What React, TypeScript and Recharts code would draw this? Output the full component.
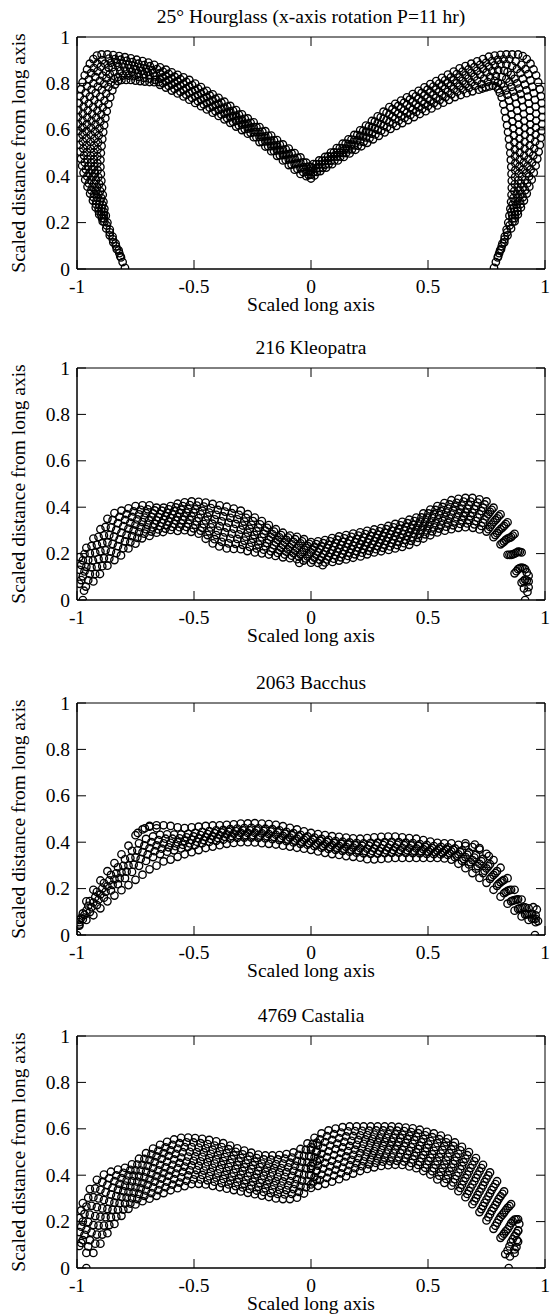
import React from 'react';
import { ScatterChart, Scatter, XAxis, YAxis, ReferenceArea } from 'recharts';

const xTicks = [-1, -0.5, 0, 0.5, 1];
const yTicks = [0, 0.2, 0.4, 0.6, 0.8, 1];

const titles = [
  '25° Hourglass (x-axis rotation P=11 hr)',
  '216 Kleopatra',
  '2063 Bacchus',
  '4769 Castalia',
];
const xLabel = 'Scaled long axis';
const yLabel = 'Scaled distance from long axis';

// --- 25° Hourglass: strands of points, flat x,y pairs (tail -> centre) ---
const hgOuterLeft = [
  -0.795,0.005, -0.805,0.03, -0.815,0.055, -0.83,0.085, -0.845,0.115, -0.86,0.145, -0.875,0.175, -0.89,0.205,
  -0.905,0.235, -0.92,0.265, -0.932,0.295, -0.944,0.325, -0.955,0.355, -0.965,0.385, -0.972,0.415, -0.978,0.445,
  -0.983,0.475, -0.987,0.505, -0.99,0.535, -0.992,0.565, -0.994,0.595, -0.995,0.625, -0.995,0.655, -0.994,0.685,
  -0.992,0.715, -0.988,0.745, -0.983,0.775, -0.976,0.805, -0.967,0.835, -0.957,0.86, -0.945,0.885, -0.93,0.905,
  -0.915,0.92, -0.895,0.925, -0.87,0.925, -0.845,0.922, -0.82,0.918, -0.795,0.913, -0.77,0.908, -0.745,0.902,
  -0.72,0.896, -0.695,0.89, -0.67,0.88, -0.645,0.869, -0.62,0.859, -0.595,0.848, -0.57,0.837, -0.545,0.826,
  -0.52,0.815, -0.495,0.799, -0.47,0.784, -0.445,0.768, -0.42,0.753, -0.395,0.738, -0.37,0.721, -0.345,0.703,
  -0.32,0.685, -0.295,0.667, -0.27,0.649, -0.245,0.632, -0.22,0.612, -0.195,0.594, -0.17,0.575, -0.145,0.556,
  -0.12,0.537, -0.095,0.519, -0.07,0.50, -0.045,0.481, -0.02,0.458, 0,0.44,
];
const hgMidALeft = [
  -0.883,0.203, -0.896,0.233, -0.908,0.263, -0.917,0.293, -0.926,0.323, -0.934,0.353, -0.942,0.383, -0.947,0.413,
  -0.952,0.443, -0.955,0.473, -0.957,0.503, -0.958,0.533, -0.959,0.563, -0.959,0.593, -0.958,0.623, -0.956,0.653,
  -0.954,0.683, -0.95,0.713, -0.945,0.743, -0.938,0.773, -0.93,0.80, -0.922,0.828, -0.912,0.852, -0.898,0.872,
  -0.88,0.885, -0.855,0.889, -0.83,0.888, -0.805,0.885, -0.78,0.88, -0.755,0.875, -0.73,0.868, -0.705,0.862,
  -0.68,0.857, -0.645,0.844, -0.62,0.833, -0.595,0.822, -0.57,0.81, -0.545,0.799, -0.52,0.787, -0.495,0.771,
  -0.47,0.757, -0.445,0.741, -0.42,0.727, -0.395,0.712, -0.37,0.696, -0.345,0.679, -0.32,0.661, -0.295,0.644,
  -0.27,0.627, -0.245,0.611, -0.22,0.59, -0.195,0.572, -0.17,0.553, -0.145,0.533, -0.12,0.514, -0.095,0.495,
  -0.07,0.476, -0.045,0.457, -0.02,0.439, 0,0.423,
];
const hgMidBLeft = [
  -0.886,0.232, -0.895,0.262, -0.902,0.292, -0.908,0.322, -0.914,0.352, -0.919,0.382, -0.923,0.412, -0.926,0.442,
  -0.928,0.472, -0.928,0.502, -0.927,0.532, -0.925,0.562, -0.923,0.592, -0.921,0.622, -0.918,0.652, -0.913,0.682,
  -0.908,0.712, -0.901,0.742, -0.894,0.772, -0.884,0.798, -0.874,0.822, -0.86,0.84, -0.84,0.85, -0.815,0.853,
  -0.79,0.852, -0.765,0.85, -0.74,0.845, -0.715,0.84, -0.69,0.835, -0.667,0.83, -0.645,0.819, -0.62,0.808,
  -0.595,0.795, -0.57,0.784, -0.545,0.771, -0.52,0.758, -0.495,0.744, -0.47,0.729, -0.445,0.715, -0.42,0.70,
  -0.395,0.686, -0.37,0.67, -0.345,0.654, -0.32,0.638, -0.295,0.622, -0.27,0.605, -0.245,0.589, -0.22,0.569,
  -0.195,0.55, -0.17,0.53, -0.145,0.511, -0.12,0.491, -0.095,0.472, -0.07,0.452, -0.045,0.434, -0.02,0.419, 0,0.407,
];
const hgInnerLeft = [
  -0.812,0.05, -0.822,0.08, -0.835,0.11, -0.848,0.14, -0.86,0.17, -0.87,0.20, -0.877,0.23, -0.883,0.26,
  -0.887,0.29, -0.89,0.32, -0.893,0.35, -0.896,0.38, -0.898,0.41, -0.90,0.44, -0.90,0.47, -0.898,0.50,
  -0.895,0.53, -0.892,0.56, -0.888,0.59, -0.884,0.62, -0.879,0.65, -0.873,0.68, -0.866,0.71, -0.858,0.74,
  -0.849,0.77, -0.838,0.795, -0.825,0.81, -0.81,0.815, -0.79,0.815, -0.77,0.815, -0.75,0.812, -0.73,0.81,
  -0.71,0.808, -0.69,0.806, -0.67,0.805, -0.645,0.794, -0.62,0.782, -0.595,0.769, -0.57,0.757, -0.545,0.744,
  -0.52,0.73, -0.495,0.716, -0.47,0.702, -0.445,0.688, -0.42,0.674, -0.395,0.66, -0.37,0.645, -0.345,0.63,
  -0.32,0.614, -0.295,0.599, -0.27,0.583, -0.245,0.568, -0.22,0.547, -0.195,0.528, -0.17,0.508, -0.145,0.488,
  -0.12,0.468, -0.095,0.448, -0.07,0.428, -0.045,0.41, -0.02,0.40, 0,0.39,
];
const hgFillALeft = [
  -0.893,0.219, -0.907,0.249, -0.919,0.279, -0.929,0.309, -0.939,0.339, -0.949,0.369, -0.956,0.399, -0.962,0.429,
  -0.967,0.459, -0.97,0.489, -0.973,0.519, -0.975,0.549, -0.976,0.579, -0.976,0.609, -0.976,0.639, -0.975,0.669,
  -0.972,0.699, -0.969,0.729, -0.963,0.759, -0.957,0.788, -0.949,0.817, -0.94,0.844, -0.928,0.866, -0.913,0.885,
  -0.893,0.90, -0.863,0.907, -0.838,0.905, -0.813,0.902, -0.788,0.897, -0.763,0.892, -0.738,0.885, -0.713,0.879,
  -0.688,0.874, -0.658,0.862, -0.633,0.851, -0.608,0.841, -0.583,0.829, -0.558,0.818, -0.533,0.807, -0.508,0.793,
  -0.483,0.778, -0.458,0.763, -0.433,0.748, -0.408,0.733, -0.383,0.717, -0.358,0.70, -0.333,0.682, -0.308,0.665,
  -0.283,0.647, -0.258,0.63, -0.233,0.611, -0.208,0.592, -0.183,0.574, -0.158,0.554, -0.133,0.535, -0.108,0.516,
  -0.083,0.498, -0.058,0.479, -0.033,0.46, -0.01,0.441,
];
const hgFillBLeft = [
  -0.819,0.068, -0.833,0.098, -0.847,0.128, -0.86,0.158, -0.873,0.188, -0.885,0.218, -0.896,0.248, -0.905,0.278,
  -0.913,0.308, -0.92,0.338, -0.927,0.368, -0.933,0.398, -0.937,0.428, -0.94,0.458, -0.942,0.488, -0.942,0.518,
  -0.942,0.548, -0.941,0.578, -0.94,0.608, -0.938,0.638, -0.935,0.668, -0.931,0.698, -0.926,0.728, -0.92,0.758,
  -0.911,0.786, -0.902,0.811, -0.891,0.834, -0.876,0.851, -0.865,0.868, -0.848,0.87, -0.823,0.871, -0.798,0.869,
  -0.773,0.865, -0.748,0.86, -0.723,0.854, -0.698,0.849, -0.674,0.844, -0.633,0.826, -0.608,0.814, -0.583,0.803,
  -0.558,0.791, -0.533,0.779, -0.508,0.766, -0.483,0.75, -0.458,0.736, -0.433,0.721, -0.408,0.707, -0.383,0.691,
  -0.358,0.675, -0.333,0.659, -0.308,0.642, -0.283,0.625, -0.258,0.608, -0.233,0.59, -0.208,0.57, -0.183,0.551,
  -0.158,0.532, -0.133,0.512, -0.108,0.493, -0.083,0.474, -0.058,0.455, -0.033,0.438, -0.01,0.423,
];
const hgFillCLeft = [
  -0.885,0.246, -0.891,0.276, -0.896,0.306, -0.901,0.336, -0.905,0.366, -0.909,0.396, -0.912,0.426, -0.913,0.456,
  -0.913,0.486, -0.912,0.516, -0.91,0.546, -0.907,0.576, -0.904,0.606, -0.90,0.636, -0.896,0.666, -0.89,0.696,
  -0.883,0.726, -0.875,0.756, -0.866,0.784, -0.855,0.804, -0.842,0.819, -0.825,0.828, -0.803,0.834, -0.78,0.834,
  -0.758,0.831, -0.735,0.828, -0.713,0.824, -0.69,0.82, -0.667,0.815, -0.65,0.806, -0.633,0.801, -0.608,0.789,
  -0.583,0.776, -0.558,0.764, -0.533,0.751, -0.508,0.737, -0.483,0.723, -0.458,0.709, -0.433,0.695, -0.408,0.68,
  -0.383,0.666, -0.358,0.65, -0.333,0.634, -0.308,0.619, -0.283,0.603, -0.258,0.587, -0.233,0.568, -0.208,0.549,
  -0.183,0.529, -0.158,0.509, -0.133,0.49, -0.108,0.47, -0.083,0.45, -0.058,0.431, -0.033,0.417, -0.01,0.405,
];
const hgOuterRight = [
  0.782,0.005, 0.79,0.03, 0.80,0.055, 0.812,0.085, 0.826,0.115, 0.84,0.145, 0.855,0.175, 0.87,0.205,
  0.884,0.235, 0.897,0.265, 0.91,0.295, 0.922,0.325, 0.933,0.355, 0.943,0.385, 0.952,0.415, 0.96,0.445,
  0.967,0.475, 0.973,0.505, 0.978,0.535, 0.982,0.565, 0.985,0.595, 0.987,0.625, 0.988,0.655, 0.988,0.685,
  0.986,0.715, 0.983,0.745, 0.978,0.775, 0.971,0.805, 0.962,0.835, 0.951,0.86, 0.938,0.885, 0.922,0.905,
  0.905,0.918, 0.885,0.925, 0.86,0.925, 0.835,0.925, 0.81,0.923, 0.785,0.92, 0.76,0.915, 0.735,0.905,
  0.71,0.895, 0.685,0.885, 0.66,0.875, 0.635,0.865, 0.61,0.851, 0.585,0.838, 0.56,0.824, 0.535,0.81,
  0.51,0.797, 0.485,0.783, 0.46,0.768, 0.435,0.754, 0.41,0.74, 0.385,0.726, 0.36,0.712, 0.335,0.698,
  0.31,0.678, 0.285,0.658, 0.26,0.638, 0.235,0.618, 0.21,0.598, 0.185,0.578, 0.16,0.559, 0.135,0.54,
  0.11,0.521, 0.085,0.502, 0.06,0.483, 0.035,0.468, 0.01,0.452,
];
const hgMidARight = [
  0.861,0.203, 0.872,0.233, 0.882,0.263, 0.892,0.293, 0.90,0.323, 0.908,0.353, 0.915,0.383, 0.92,0.413,
  0.925,0.443, 0.929,0.473, 0.933,0.503, 0.935,0.533, 0.937,0.563, 0.937,0.593, 0.937,0.623, 0.936,0.653,
  0.935,0.683, 0.931,0.713, 0.927,0.743, 0.921,0.77, 0.914,0.795, 0.905,0.82, 0.895,0.845, 0.88,0.862,
  0.86,0.875, 0.835,0.882, 0.81,0.882, 0.785,0.878, 0.76,0.872, 0.735,0.863, 0.71,0.854, 0.685,0.845,
  0.66,0.835, 0.635,0.826, 0.61,0.814, 0.585,0.801, 0.56,0.788, 0.535,0.774, 0.51,0.761, 0.485,0.748,
  0.46,0.734, 0.435,0.72, 0.41,0.707, 0.385,0.693, 0.36,0.679, 0.335,0.666, 0.31,0.647, 0.285,0.629,
  0.26,0.611, 0.235,0.592, 0.21,0.574, 0.185,0.556, 0.16,0.538, 0.135,0.52, 0.11,0.502, 0.085,0.484,
  0.06,0.467, 0.035,0.451, 0.01,0.435,
];
const hgMidBRight = [
  0.86,0.232, 0.867,0.262, 0.873,0.292, 0.879,0.322, 0.883,0.352, 0.886,0.382, 0.889,0.412, 0.891,0.442,
  0.892,0.472, 0.892,0.502, 0.892,0.532, 0.891,0.562, 0.89,0.592, 0.888,0.622, 0.885,0.652, 0.881,0.682,
  0.877,0.712, 0.871,0.742, 0.864,0.765, 0.857,0.785, 0.848,0.805, 0.835,0.82, 0.815,0.828, 0.79,0.832,
  0.765,0.828, 0.74,0.821, 0.71,0.812, 0.685,0.804, 0.66,0.796, 0.635,0.787, 0.61,0.776, 0.585,0.764,
  0.56,0.751, 0.535,0.738, 0.51,0.726, 0.485,0.712, 0.46,0.699, 0.435,0.686, 0.41,0.673, 0.385,0.66,
  0.36,0.647, 0.335,0.633, 0.31,0.617, 0.285,0.60, 0.26,0.583, 0.235,0.567, 0.21,0.55, 0.185,0.533,
  0.16,0.516, 0.135,0.50, 0.11,0.484, 0.085,0.467, 0.06,0.45, 0.035,0.435, 0.01,0.417,
];
const hgInnerRight = [
  0.798,0.05, 0.808,0.08, 0.818,0.11, 0.828,0.14, 0.836,0.17, 0.843,0.20, 0.848,0.23, 0.852,0.26,
  0.855,0.29, 0.857,0.32, 0.858,0.35, 0.858,0.38, 0.857,0.41, 0.856,0.44, 0.854,0.47, 0.852,0.50,
  0.849,0.53, 0.846,0.56, 0.842,0.59, 0.838,0.62, 0.833,0.65, 0.828,0.68, 0.822,0.71, 0.815,0.74,
  0.807,0.76, 0.80,0.775, 0.79,0.787, 0.777,0.79, 0.762,0.787, 0.747,0.783, 0.732,0.778, 0.717,0.773,
  0.69,0.766, 0.665,0.758, 0.64,0.75, 0.615,0.741, 0.59,0.729, 0.565,0.717, 0.54,0.705, 0.515,0.692,
  0.49,0.68, 0.465,0.668, 0.44,0.655, 0.415,0.642, 0.39,0.629, 0.365,0.617, 0.34,0.604, 0.315,0.589,
  0.29,0.574, 0.265,0.559, 0.24,0.544, 0.215,0.529, 0.19,0.514, 0.165,0.498, 0.14,0.483, 0.115,0.468,
  0.09,0.452, 0.065,0.437, 0.04,0.422, 0.015,0.403,
];
const hgFillARight = [
  0.871,0.219, 0.883,0.249, 0.895,0.279, 0.905,0.309, 0.915,0.339, 0.924,0.369, 0.932,0.399, 0.939,0.429,
  0.945,0.459, 0.95,0.489, 0.954,0.519, 0.958,0.549, 0.96,0.579, 0.961,0.609, 0.962,0.639, 0.962,0.669,
  0.96,0.699, 0.957,0.729, 0.952,0.758, 0.946,0.785, 0.938,0.813, 0.929,0.84, 0.916,0.861, 0.899,0.88,
  0.875,0.895, 0.848,0.904, 0.823,0.904, 0.798,0.901, 0.773,0.896, 0.748,0.889, 0.723,0.88, 0.698,0.87,
  0.673,0.86, 0.648,0.851, 0.623,0.84, 0.598,0.826, 0.573,0.813, 0.548,0.799, 0.523,0.786, 0.498,0.773,
  0.473,0.759, 0.448,0.744, 0.423,0.731, 0.398,0.717, 0.373,0.703, 0.348,0.689, 0.323,0.673, 0.298,0.654,
  0.273,0.635, 0.248,0.615, 0.223,0.596, 0.198,0.577, 0.173,0.558, 0.148,0.54, 0.123,0.521, 0.098,0.503,
  0.073,0.485, 0.048,0.467, 0.023,0.452,
];
const hgFillBRight = [
  0.804,0.068, 0.815,0.098, 0.827,0.128, 0.838,0.158, 0.849,0.188, 0.861,0.218, 0.87,0.248, 0.878,0.278,
  0.886,0.308, 0.892,0.338, 0.897,0.368, 0.902,0.398, 0.906,0.428, 0.909,0.458, 0.911,0.488, 0.913,0.518,
  0.913,0.548, 0.914,0.578, 0.913,0.608, 0.911,0.638, 0.909,0.668, 0.906,0.698, 0.901,0.728, 0.896,0.754,
  0.889,0.778, 0.881,0.80, 0.87,0.82, 0.855,0.837, 0.84,0.849, 0.825,0.855, 0.80,0.857, 0.775,0.853,
  0.75,0.847, 0.723,0.838, 0.698,0.829, 0.673,0.821, 0.648,0.811, 0.623,0.801, 0.598,0.789, 0.573,0.776,
  0.548,0.763, 0.523,0.75, 0.498,0.737, 0.473,0.724, 0.448,0.71, 0.423,0.697, 0.398,0.684, 0.373,0.67,
  0.348,0.656, 0.323,0.642, 0.298,0.624, 0.273,0.606, 0.248,0.589, 0.223,0.571, 0.198,0.554, 0.173,0.536,
  0.148,0.519, 0.123,0.502, 0.098,0.485, 0.073,0.467, 0.048,0.451, 0.023,0.434,
];
const hgFillCRight = [
  0.856,0.246, 0.861,0.276, 0.865,0.306, 0.869,0.336, 0.871,0.366, 0.872,0.396, 0.873,0.426, 0.873,0.456,
  0.872,0.486, 0.871,0.516, 0.869,0.546, 0.867,0.576, 0.864,0.606, 0.861,0.636, 0.857,0.666, 0.852,0.696,
  0.846,0.726, 0.839,0.751, 0.832,0.77, 0.824,0.786, 0.813,0.798, 0.799,0.804, 0.784,0.811, 0.756,0.806,
  0.729,0.797, 0.70,0.789, 0.675,0.781, 0.65,0.773, 0.625,0.764, 0.60,0.753, 0.575,0.741, 0.55,0.728,
  0.525,0.715, 0.50,0.703, 0.475,0.69, 0.45,0.677, 0.425,0.664, 0.40,0.651, 0.375,0.639, 0.35,0.626,
  0.325,0.611, 0.30,0.596, 0.275,0.58, 0.25,0.564, 0.225,0.548, 0.20,0.532, 0.175,0.516, 0.15,0.50,
  0.125,0.484, 0.10,0.468, 0.075,0.452, 0.05,0.436, 0.025,0.419,
];

// --- 216 Kleopatra ---
const kleoRow1 = [
  -0.99,0.07, -0.962,0.058, -0.93,0.08, -0.902,0.112, -0.87,0.148, -0.84,0.172, -0.812,0.192, -0.78,0.222,
  -0.75,0.243, -0.722,0.266, -0.69,0.276, -0.66,0.29, -0.632,0.293, -0.60,0.302, -0.57,0.298, -0.54,0.301,
  -0.512,0.294, -0.48,0.286, -0.45,0.264, -0.42,0.244, -0.392,0.231, -0.36,0.222, -0.33,0.22, -0.30,0.219,
  -0.272,0.211, -0.24,0.205, -0.21,0.201, -0.18,0.196, -0.152,0.19, -0.12,0.184, -0.09,0.18, -0.06,0.176,
  -0.032,0.17, 0,0.161, 0.03,0.16, 0.06,0.162, 0.092,0.164, 0.12,0.17, 0.15,0.175, 0.18,0.182,
  0.212,0.188, 0.24,0.197, 0.27,0.205, 0.30,0.21, 0.332,0.216, 0.36,0.222, 0.39,0.229, 0.42,0.238,
  0.452,0.25, 0.48,0.265, 0.51,0.279, 0.54,0.291, 0.572,0.299, 0.60,0.305, 0.63,0.311, 0.66,0.314,
  0.692,0.311, 0.72,0.304, 0.75,0.295, 0.78,0.271, 0.81,0.24, 0.84,0.195, 0.87,0.115, 0.90,0.075, 0.93,0.055,
];
const kleoRow2 = [
  -0.975,0.102, -0.945,0.112, -0.915,0.143, -0.885,0.18, -0.855,0.209, -0.825,0.232, -0.795,0.253, -0.765,0.275,
  -0.735,0.292, -0.705,0.305, -0.675,0.313, -0.645,0.318, -0.615,0.323, -0.585,0.328, -0.555,0.33, -0.525,0.329,
  -0.495,0.324, -0.465,0.311, -0.435,0.296, -0.405,0.28, -0.375,0.27, -0.345,0.265, -0.315,0.263, -0.285,0.256,
  -0.255,0.247, -0.225,0.239, -0.195,0.232, -0.165,0.223, -0.135,0.215, -0.105,0.208, -0.075,0.202, -0.045,0.197,
  -0.015,0.188, 0.015,0.183, 0.045,0.185, 0.075,0.187, 0.105,0.192, 0.135,0.198, 0.165,0.204, 0.195,0.211,
  0.225,0.219, 0.255,0.226, 0.285,0.232, 0.315,0.239, 0.345,0.245, 0.375,0.252, 0.405,0.26, 0.435,0.271,
  0.465,0.285, 0.495,0.30, 0.525,0.313, 0.555,0.324, 0.585,0.333, 0.615,0.339, 0.645,0.344, 0.675,0.345,
  0.705,0.34, 0.735,0.333, 0.765,0.315, 0.795,0.288, 0.825,0.252, 0.855,0.194, 0.885,0.133, 0.915,0.088,
];
const kleoRow3 = [
  -0.99,0.13, -0.96,0.143, -0.932,0.17, -0.90,0.21, -0.87,0.248, -0.842,0.273, -0.81,0.29, -0.78,0.308,
  -0.75,0.325, -0.72,0.336, -0.692,0.343, -0.66,0.343, -0.63,0.346, -0.60,0.353, -0.57,0.358, -0.542,0.36,
  -0.51,0.36, -0.48,0.353, -0.45,0.343, -0.422,0.329, -0.39,0.318, -0.36,0.312, -0.33,0.307, -0.30,0.303,
  -0.27,0.29, -0.242,0.28, -0.21,0.27, -0.18,0.26, -0.15,0.248, -0.12,0.237, -0.092,0.228, -0.06,0.224,
  -0.03,0.216, 0,0.205, 0.03,0.207, 0.062,0.21, 0.09,0.215, 0.12,0.222, 0.15,0.228, 0.18,0.234,
  0.21,0.24, 0.242,0.248, 0.27,0.254, 0.30,0.26, 0.33,0.268, 0.36,0.275, 0.392,0.283, 0.42,0.292,
  0.45,0.303, 0.48,0.319, 0.51,0.335, 0.542,0.348, 0.57,0.359, 0.60,0.368, 0.63,0.374, 0.66,0.377,
  0.69,0.376, 0.72,0.369, 0.75,0.36, 0.78,0.335, 0.81,0.305, 0.84,0.265, 0.87,0.20, 0.90,0.14, 0.93,0.08,
];
const kleoRow4 = [
  -0.975,0.171, -0.945,0.201, -0.915,0.238, -0.885,0.279, -0.855,0.312, -0.825,0.331, -0.795,0.345, -0.765,0.358,
  -0.735,0.369, -0.705,0.374, -0.675,0.373, -0.645,0.371, -0.615,0.376, -0.585,0.383, -0.555,0.389, -0.525,0.392,
  -0.495,0.391, -0.465,0.385, -0.435,0.377, -0.405,0.367, -0.375,0.36, -0.345,0.354, -0.315,0.348, -0.285,0.338,
  -0.255,0.324, -0.225,0.312, -0.195,0.299, -0.165,0.284, -0.135,0.27, -0.105,0.259, -0.075,0.251, -0.045,0.244,
  -0.015,0.233, 0.015,0.229, 0.045,0.232, 0.075,0.238, 0.105,0.245, 0.135,0.251, 0.165,0.257, 0.195,0.263,
  0.225,0.27, 0.255,0.276, 0.285,0.282, 0.315,0.29, 0.345,0.298, 0.375,0.306, 0.405,0.315, 0.435,0.324,
  0.465,0.338, 0.495,0.355, 0.525,0.37, 0.555,0.383, 0.585,0.394, 0.615,0.402, 0.645,0.407, 0.675,0.408,
  0.705,0.405, 0.735,0.398, 0.765,0.38, 0.795,0.352, 0.825,0.319, 0.855,0.271, 0.885,0.208, 0.915,0.133,
];
const kleoRow5 = [
  -0.99,0.185, -0.96,0.225, -0.93,0.265, -0.90,0.305, -0.87,0.35, -0.84,0.375, -0.81,0.385, -0.78,0.395,
  -0.75,0.405, -0.72,0.408, -0.69,0.408, -0.66,0.398, -0.63,0.398, -0.60,0.405, -0.57,0.415, -0.54,0.421,
  -0.51,0.425, -0.48,0.423, -0.45,0.42, -0.42,0.414, -0.39,0.408, -0.36,0.402, -0.33,0.394, -0.30,0.385,
  -0.27,0.37, -0.24,0.355, -0.21,0.34, -0.18,0.323, -0.15,0.305, -0.12,0.29, -0.09,0.278, -0.06,0.272,
  -0.03,0.262, 0,0.25, 0.03,0.253, 0.06,0.258, 0.09,0.267, 0.12,0.274, 0.15,0.28, 0.18,0.286,
  0.21,0.292, 0.24,0.298, 0.27,0.304, 0.30,0.31, 0.33,0.319, 0.36,0.328, 0.39,0.337, 0.42,0.346,
  0.45,0.355, 0.48,0.373, 0.51,0.39, 0.54,0.405, 0.57,0.418, 0.60,0.43, 0.63,0.436, 0.66,0.44,
  0.69,0.44, 0.72,0.434, 0.75,0.425, 0.78,0.398, 0.81,0.369, 0.84,0.335, 0.87,0.285, 0.90,0.205, 0.93,0.105,
];
const kleoFill1 = [
  -0.982,0.086, -0.952,0.085, -0.922,0.112, -0.892,0.146, -0.862,0.179, -0.832,0.202, -0.802,0.223, -0.772,0.249,
  -0.742,0.268, -0.712,0.286, -0.682,0.295, -0.652,0.304, -0.622,0.308, -0.592,0.315, -0.562,0.314, -0.532,0.315,
  -0.502,0.309, -0.472,0.299, -0.442,0.28, -0.412,0.262, -0.382,0.251, -0.352,0.244, -0.322,0.242, -0.292,0.238,
  -0.262,0.229, -0.232,0.222, -0.202,0.217, -0.172,0.21, -0.142,0.203, -0.112,0.196, -0.082,0.191, -0.052,0.187,
  -0.022,0.179, 0.008,0.172, 0.038,0.173, 0.068,0.175, 0.098,0.178, 0.128,0.184, 0.158,0.19, 0.188,0.197,
  0.218,0.204, 0.248,0.212, 0.278,0.219, 0.308,0.225, 0.338,0.231, 0.368,0.237, 0.398,0.245, 0.428,0.255,
  0.458,0.268, 0.488,0.283, 0.518,0.296, 0.548,0.308, 0.578,0.316, 0.608,0.322, 0.638,0.328, 0.668,0.33,
  0.698,0.326, 0.728,0.319, 0.758,0.305, 0.788,0.28, 0.818,0.246, 0.848,0.195, 0.878,0.124, 0.908,0.082,
];
const kleoFill2 = [
  -0.968,0.123, -0.938,0.141, -0.908,0.177, -0.878,0.214, -0.848,0.241, -0.818,0.261, -0.788,0.281, -0.758,0.30,
  -0.728,0.314, -0.698,0.324, -0.668,0.328, -0.638,0.332, -0.608,0.338, -0.578,0.343, -0.548,0.345, -0.518,0.345,
  -0.488,0.339, -0.458,0.327, -0.428,0.313, -0.398,0.299, -0.368,0.291, -0.338,0.286, -0.308,0.283, -0.278,0.273,
  -0.248,0.264, -0.218,0.255, -0.188,0.246, -0.158,0.236, -0.128,0.226, -0.098,0.218, -0.068,0.213, -0.038,0.207,
  -0.008,0.197, 0.022,0.195, 0.052,0.198, 0.082,0.201, 0.112,0.207, 0.142,0.213, 0.172,0.219, 0.202,0.226,
  0.232,0.234, 0.262,0.24, 0.292,0.246, 0.322,0.254, 0.352,0.26, 0.382,0.268, 0.412,0.276, 0.442,0.287,
  0.472,0.302, 0.502,0.318, 0.532,0.331, 0.562,0.342, 0.592,0.351, 0.622,0.357, 0.652,0.361, 0.682,0.361,
  0.712,0.355, 0.742,0.347, 0.772,0.325, 0.802,0.297, 0.832,0.259, 0.862,0.197, 0.892,0.137, 0.922,0.084,
];
const kleoFill3 = [
  -0.982,0.151, -0.952,0.172, -0.922,0.204, -0.892,0.245, -0.862,0.28, -0.832,0.302, -0.802,0.318, -0.772,0.333,
  -0.742,0.347, -0.712,0.355, -0.682,0.358, -0.652,0.357, -0.622,0.361, -0.592,0.368, -0.562,0.374, -0.532,0.376,
  -0.502,0.376, -0.472,0.369, -0.442,0.36, -0.412,0.348, -0.382,0.339, -0.352,0.333, -0.322,0.328, -0.292,0.321,
  -0.262,0.307, -0.232,0.296, -0.202,0.285, -0.172,0.272, -0.142,0.259, -0.112,0.248, -0.082,0.24, -0.052,0.234,
  -0.022,0.225, 0.008,0.217, 0.038,0.22, 0.068,0.224, 0.098,0.23, 0.128,0.237, 0.158,0.243, 0.188,0.249,
  0.218,0.255, 0.248,0.262, 0.278,0.268, 0.308,0.275, 0.338,0.283, 0.368,0.291, 0.398,0.299, 0.428,0.308,
  0.458,0.321, 0.488,0.337, 0.518,0.353, 0.548,0.366, 0.578,0.377, 0.608,0.385, 0.638,0.391, 0.668,0.393,
  0.698,0.391, 0.728,0.384, 0.758,0.37, 0.788,0.344, 0.818,0.312, 0.848,0.268, 0.878,0.204, 0.908,0.137,
];
const kleoFill4 = [
  -0.968,0.198, -0.938,0.233, -0.908,0.272, -0.878,0.315, -0.848,0.344, -0.818,0.358, -0.788,0.37, -0.758,0.382,
  -0.728,0.389, -0.698,0.391, -0.668,0.386, -0.638,0.385, -0.608,0.391, -0.578,0.399, -0.548,0.405, -0.518,0.409,
  -0.488,0.407, -0.458,0.403, -0.428,0.396, -0.398,0.388, -0.368,0.381, -0.338,0.374, -0.308,0.367, -0.278,0.354,
  -0.248,0.34, -0.218,0.326, -0.188,0.311, -0.158,0.295, -0.128,0.28, -0.098,0.269, -0.068,0.262, -0.038,0.253,
  -0.008,0.242, 0.022,0.241, 0.052,0.245, 0.082,0.253, 0.112,0.26, 0.142,0.266, 0.172,0.272, 0.202,0.278,
  0.232,0.284, 0.262,0.29, 0.292,0.296, 0.322,0.305, 0.352,0.313, 0.382,0.322, 0.412,0.331, 0.442,0.34,
  0.472,0.356, 0.502,0.373, 0.532,0.388, 0.562,0.401, 0.592,0.412, 0.622,0.419, 0.652,0.424, 0.682,0.424,
  0.712,0.42, 0.742,0.412, 0.772,0.389, 0.802,0.361, 0.832,0.327, 0.862,0.278, 0.892,0.207, 0.922,0.119,
];
const kleoLoose = [-0.975,0.0, 0.915,0.0, -0.97,0.04, 0.925,0.035, 0.91,0.05, -0.05,0.16, 0.05,0.15];

// --- 2063 Bacchus ---
const bacRow1 = [
  -0.99,0.045, -0.96,0.065, -0.93,0.085, -0.90,0.115, -0.87,0.145, -0.84,0.17, -0.81,0.193, -0.78,0.215,
  -0.75,0.238, -0.72,0.26, -0.69,0.283, -0.66,0.299, -0.63,0.317, -0.60,0.325, -0.57,0.337, -0.54,0.348,
  -0.51,0.357, -0.48,0.366, -0.45,0.375, -0.42,0.381, -0.39,0.387, -0.36,0.393, -0.33,0.397, -0.30,0.40,
  -0.27,0.40, -0.24,0.399, -0.21,0.396, -0.18,0.393, -0.15,0.39, -0.12,0.385, -0.09,0.381, -0.06,0.376,
  -0.03,0.372, 0,0.367, 0.03,0.36, 0.06,0.354, 0.09,0.349, 0.12,0.345, 0.15,0.34, 0.18,0.337,
  0.21,0.333, 0.24,0.327, 0.27,0.326, 0.30,0.328, 0.33,0.33, 0.36,0.332, 0.39,0.332, 0.42,0.332,
  0.45,0.332, 0.48,0.332, 0.51,0.332, 0.54,0.332, 0.57,0.33, 0.60,0.325, 0.63,0.307, 0.66,0.288,
  0.69,0.267, 0.72,0.246, 0.75,0.225, 0.78,0.195, 0.81,0.165, 0.84,0.135, 0.87,0.105, 0.90,0.08, 0.93,0.065, 0.96,0.055,
];
const bacRow2 = [
  -0.975,0.068, -0.945,0.099, -0.915,0.129, -0.885,0.161, -0.855,0.192, -0.825,0.219, -0.795,0.245, -0.765,0.272,
  -0.735,0.298, -0.705,0.319, -0.675,0.336, -0.645,0.349, -0.615,0.359, -0.585,0.365, -0.555,0.373, -0.525,0.38,
  -0.495,0.388, -0.465,0.396, -0.435,0.401, -0.405,0.406, -0.375,0.411, -0.345,0.415, -0.315,0.419, -0.285,0.42,
  -0.255,0.42, -0.225,0.419, -0.195,0.416, -0.165,0.413, -0.135,0.409, -0.105,0.404, -0.075,0.399, -0.045,0.393,
  -0.015,0.389, 0.015,0.383, 0.045,0.376, 0.075,0.371, 0.105,0.367, 0.135,0.363, 0.165,0.359, 0.195,0.355,
  0.225,0.352, 0.255,0.35, 0.285,0.351, 0.315,0.353, 0.345,0.354, 0.375,0.355, 0.405,0.354, 0.435,0.353,
  0.465,0.352, 0.495,0.35, 0.525,0.349, 0.555,0.347, 0.585,0.345, 0.615,0.335, 0.645,0.32, 0.675,0.304,
  0.705,0.286, 0.735,0.267, 0.765,0.242, 0.795,0.212, 0.825,0.18, 0.855,0.145, 0.885,0.113, 0.915,0.088, 0.945,0.07,
];
const bacRow3 = [
  -0.99,0.055, -0.96,0.105, -0.93,0.14, -0.90,0.175, -0.87,0.21, -0.84,0.24, -0.81,0.27, -0.78,0.30,
  -0.75,0.334, -0.72,0.357, -0.69,0.375, -0.66,0.386, -0.63,0.395, -0.60,0.397, -0.57,0.40, -0.54,0.405,
  -0.51,0.41, -0.48,0.416, -0.45,0.422, -0.42,0.426, -0.39,0.43, -0.36,0.434, -0.33,0.437, -0.30,0.44,
  -0.27,0.44, -0.24,0.44, -0.21,0.438, -0.18,0.435, -0.15,0.432, -0.12,0.427, -0.09,0.42, -0.06,0.415,
  -0.03,0.41, 0,0.403, 0.03,0.397, 0.06,0.392, 0.09,0.387, 0.12,0.384, 0.15,0.38, 0.18,0.377,
  0.21,0.374, 0.24,0.372, 0.27,0.373, 0.30,0.375, 0.33,0.377, 0.36,0.378, 0.39,0.376, 0.42,0.375,
  0.45,0.373, 0.48,0.37, 0.51,0.367, 0.54,0.364, 0.57,0.362, 0.60,0.36, 0.63,0.348, 0.66,0.336,
  0.69,0.323, 0.72,0.307, 0.75,0.287, 0.78,0.259, 0.81,0.227, 0.84,0.19, 0.87,0.15, 0.90,0.116, 0.93,0.09, 0.96,0.07,
];
const bacRow4 = [
  -0.975,0.093, -0.945,0.146, -0.915,0.186, -0.885,0.224, -0.855,0.259, -0.825,0.292, -0.795,0.326, -0.765,0.363,
  -0.735,0.395, -0.705,0.414, -0.675,0.425, -0.645,0.432, -0.615,0.434, -0.585,0.433, -0.555,0.433, -0.525,0.436,
  -0.495,0.44, -0.465,0.445, -0.435,0.448, -0.405,0.451, -0.375,0.453, -0.345,0.456, -0.315,0.459, -0.285,0.461,
  -0.255,0.462, -0.225,0.46, -0.195,0.458, -0.165,0.456, -0.135,0.451, -0.105,0.445, -0.075,0.439, -0.045,0.432,
  -0.015,0.425, 0.015,0.42, 0.045,0.414, 0.075,0.41, 0.105,0.405, 0.135,0.402, 0.165,0.399, 0.195,0.396,
  0.225,0.395, 0.255,0.397, 0.285,0.398, 0.315,0.40, 0.345,0.401, 0.375,0.40, 0.405,0.398, 0.435,0.396,
  0.465,0.392, 0.495,0.388, 0.525,0.383, 0.555,0.38, 0.585,0.378, 0.615,0.373, 0.645,0.365, 0.675,0.356,
  0.705,0.345, 0.735,0.328, 0.765,0.305, 0.795,0.275, 0.825,0.238, 0.855,0.195, 0.885,0.154, 0.915,0.119, 0.945,0.09,
];
const bacRow5 = [
  -0.99,0.065, -0.96,0.145, -0.93,0.195, -0.90,0.235, -0.87,0.275, -0.84,0.31, -0.81,0.348, -0.78,0.385,
  -0.75,0.43, -0.72,0.455, -0.69,0.467, -0.66,0.473, -0.63,0.473, -0.60,0.47, -0.57,0.464, -0.54,0.461,
  -0.51,0.464, -0.48,0.467, -0.45,0.47, -0.42,0.472, -0.39,0.473, -0.36,0.475, -0.33,0.477, -0.30,0.48,
  -0.27,0.481, -0.24,0.482, -0.21,0.48, -0.18,0.478, -0.15,0.475, -0.12,0.469, -0.09,0.462, -0.06,0.455,
  -0.03,0.447, 0,0.44, 0.03,0.435, 0.06,0.431, 0.09,0.426, 0.12,0.423, 0.15,0.42, 0.18,0.417,
  0.21,0.415, 0.24,0.418, 0.27,0.421, 0.30,0.423, 0.33,0.424, 0.36,0.424, 0.39,0.421, 0.42,0.418,
  0.45,0.415, 0.48,0.409, 0.51,0.403, 0.54,0.397, 0.57,0.395, 0.60,0.395, 0.63,0.389, 0.66,0.384,
  0.69,0.379, 0.72,0.368, 0.75,0.35, 0.78,0.323, 0.81,0.29, 0.84,0.245, 0.87,0.195, 0.90,0.153, 0.93,0.115, 0.96,0.085,
];
const bacFill1 = [
  -0.968,0.087, -0.938,0.12, -0.908,0.152, -0.878,0.186, -0.848,0.216, -0.818,0.245, -0.788,0.273, -0.758,0.303,
  -0.728,0.328, -0.698,0.347, -0.668,0.361, -0.638,0.372, -0.608,0.378, -0.578,0.383, -0.548,0.389, -0.518,0.395,
  -0.488,0.402, -0.458,0.409, -0.428,0.414, -0.398,0.418, -0.368,0.423, -0.338,0.426, -0.308,0.43, -0.278,0.43,
  -0.248,0.43, -0.218,0.429, -0.188,0.426, -0.158,0.423, -0.128,0.418, -0.098,0.412, -0.068,0.407, -0.038,0.402,
  -0.008,0.396, 0.022,0.39, 0.052,0.384, 0.082,0.379, 0.112,0.376, 0.142,0.372, 0.172,0.368, 0.202,0.365,
  0.232,0.362, 0.262,0.362, 0.292,0.363, 0.322,0.365, 0.352,0.366, 0.382,0.366, 0.412,0.365, 0.442,0.363,
  0.472,0.361, 0.502,0.359, 0.532,0.357, 0.562,0.355, 0.592,0.353, 0.622,0.342, 0.652,0.328, 0.682,0.314,
  0.712,0.297, 0.742,0.277, 0.772,0.251, 0.802,0.22, 0.832,0.185, 0.862,0.148, 0.892,0.115, 0.922,0.089, 0.952,0.07,
];
const bacFill2 = [
  -0.982,0.074, -0.952,0.126, -0.922,0.163, -0.892,0.20, -0.862,0.235, -0.832,0.266, -0.802,0.298, -0.772,0.332,
  -0.742,0.365, -0.712,0.386, -0.682,0.40, -0.652,0.409, -0.622,0.415, -0.592,0.415, -0.562,0.417, -0.532,0.421,
  -0.502,0.425, -0.472,0.431, -0.442,0.435, -0.412,0.439, -0.382,0.442, -0.352,0.445, -0.322,0.448, -0.292,0.451,
  -0.262,0.451, -0.232,0.45, -0.202,0.448, -0.172,0.446, -0.142,0.442, -0.112,0.436, -0.082,0.43, -0.052,0.424,
  -0.022,0.418, 0.008,0.412, 0.038,0.406, 0.068,0.401, 0.098,0.396, 0.128,0.393, 0.158,0.39, 0.188,0.387,
  0.218,0.385, 0.248,0.385, 0.278,0.386, 0.308,0.388, 0.338,0.389, 0.368,0.389, 0.398,0.387, 0.428,0.386,
  0.458,0.383, 0.488,0.379, 0.518,0.375, 0.548,0.372, 0.578,0.37, 0.608,0.367, 0.638,0.357, 0.668,0.346,
  0.698,0.334, 0.728,0.318, 0.758,0.296, 0.788,0.267, 0.818,0.233, 0.848,0.193, 0.878,0.152, 0.908,0.118, 0.938,0.09,
];
const bacLoose = [
  -1.0,0.0, -0.99,0.04, 0.957,0.0, 0.97,0.06, 0.965,0.11, 0.95,0.12,
  -0.74,0.44, -0.71,0.46, -0.69,0.47, -0.66,0.46, 0.66,0.395, 0.70,0.39, 0.72,0.375, 0.76,0.34,
];

// --- 4769 Castalia ---
const casRow1 = [
  -0.99,0.095, -0.96,0.065, -0.93,0.065, -0.90,0.105, -0.87,0.15, -0.84,0.19, -0.81,0.225, -0.78,0.255,
  -0.75,0.274, -0.72,0.288, -0.69,0.299, -0.66,0.311, -0.63,0.323, -0.60,0.335, -0.57,0.344, -0.54,0.353,
  -0.51,0.362, -0.48,0.363, -0.45,0.36, -0.42,0.354, -0.39,0.348, -0.36,0.342, -0.33,0.336, -0.30,0.33,
  -0.27,0.324, -0.24,0.318, -0.21,0.312, -0.18,0.306, -0.15,0.30, -0.12,0.297, -0.09,0.297, -0.06,0.303,
  -0.03,0.321, 0,0.345, 0.03,0.354, 0.06,0.363, 0.09,0.372, 0.12,0.383, 0.15,0.395, 0.18,0.407,
  0.21,0.418, 0.24,0.427, 0.27,0.434, 0.30,0.44, 0.33,0.443, 0.36,0.445, 0.39,0.444, 0.42,0.438,
  0.45,0.43, 0.48,0.418, 0.51,0.403, 0.54,0.382, 0.57,0.367, 0.60,0.355, 0.63,0.331, 0.66,0.305,
  0.69,0.275, 0.72,0.241, 0.75,0.205, 0.78,0.169, 0.81,0.13, 0.84,0.075, 0.87,0.065,
];
const casRow2 = [
  -0.975,0.12, -0.945,0.12, -0.915,0.144, -0.885,0.183, -0.855,0.219, -0.825,0.251, -0.795,0.278, -0.765,0.301,
  -0.735,0.319, -0.705,0.334, -0.675,0.347, -0.645,0.36, -0.615,0.372, -0.585,0.383, -0.555,0.391, -0.525,0.399,
  -0.495,0.402, -0.465,0.401, -0.435,0.396, -0.405,0.39, -0.375,0.384, -0.345,0.377, -0.315,0.37, -0.285,0.363,
  -0.255,0.356, -0.225,0.35, -0.195,0.344, -0.165,0.339, -0.135,0.337, -0.105,0.336, -0.075,0.34, -0.045,0.352,
  -0.015,0.374, 0.015,0.392, 0.045,0.403, 0.075,0.413, 0.105,0.423, 0.135,0.433, 0.165,0.443, 0.195,0.452,
  0.225,0.46, 0.255,0.467, 0.285,0.472, 0.315,0.476, 0.345,0.477, 0.375,0.478, 0.405,0.474, 0.435,0.468,
  0.465,0.458, 0.495,0.446, 0.525,0.43, 0.555,0.414, 0.585,0.40, 0.615,0.383, 0.645,0.359, 0.675,0.332,
  0.705,0.301, 0.735,0.267, 0.765,0.232, 0.795,0.195, 0.825,0.148, 0.855,0.111, 0.885,0.114,
];
const casRow3 = [
  -0.99,0.155, -0.96,0.165, -0.93,0.185, -0.90,0.221, -0.87,0.254, -0.84,0.282, -0.81,0.306, -0.78,0.327,
  -0.75,0.348, -0.72,0.366, -0.69,0.382, -0.66,0.396, -0.63,0.409, -0.60,0.421, -0.57,0.43, -0.54,0.437,
  -0.51,0.442, -0.48,0.441, -0.45,0.438, -0.42,0.432, -0.39,0.426, -0.36,0.418, -0.33,0.41, -0.30,0.402,
  -0.27,0.395, -0.24,0.388, -0.21,0.381, -0.18,0.378, -0.15,0.374, -0.12,0.373, -0.09,0.375, -0.06,0.383,
  -0.03,0.402, 0,0.427, 0.03,0.441, 0.06,0.453, 0.09,0.462, 0.12,0.471, 0.15,0.481, 0.18,0.488,
  0.21,0.495, 0.24,0.50, 0.27,0.504, 0.30,0.508, 0.33,0.51, 0.36,0.511, 0.39,0.509, 0.42,0.504,
  0.45,0.498, 0.48,0.487, 0.51,0.475, 0.54,0.46, 0.57,0.446, 0.60,0.433, 0.63,0.411, 0.66,0.388,
  0.69,0.36, 0.72,0.329, 0.75,0.295, 0.78,0.259, 0.81,0.22, 0.84,0.167, 0.87,0.137,
];
const casRow4 = [
  -0.975,0.20, -0.945,0.23, -0.915,0.262, -0.885,0.293, -0.855,0.317, -0.825,0.338, -0.795,0.355, -0.765,0.374,
  -0.735,0.395, -0.705,0.415, -0.675,0.431, -0.645,0.445, -0.615,0.458, -0.585,0.468, -0.555,0.476, -0.525,0.48,
  -0.495,0.481, -0.465,0.479, -0.435,0.474, -0.405,0.468, -0.375,0.461, -0.345,0.452, -0.315,0.443, -0.285,0.434,
  -0.255,0.427, -0.225,0.419, -0.195,0.415, -0.165,0.412, -0.135,0.412, -0.105,0.413, -0.075,0.419, -0.045,0.433,
  -0.015,0.455, 0.015,0.477, 0.045,0.492, 0.075,0.503, 0.105,0.512, 0.135,0.52, 0.165,0.526, 0.195,0.531,
  0.225,0.535, 0.255,0.538, 0.285,0.541, 0.315,0.543, 0.345,0.544, 0.375,0.543, 0.405,0.539, 0.435,0.535,
  0.465,0.527, 0.495,0.517, 0.525,0.505, 0.555,0.493, 0.585,0.479, 0.615,0.462, 0.645,0.44, 0.675,0.416,
  0.705,0.388, 0.735,0.356, 0.765,0.322, 0.795,0.284, 0.825,0.239, 0.855,0.193, 0.885,0.162,
];
const casRow5 = [
  -0.99,0.215, -0.96,0.265, -0.93,0.305, -0.90,0.337, -0.87,0.358, -0.84,0.374, -0.81,0.387, -0.78,0.399,
  -0.75,0.421, -0.72,0.444, -0.69,0.465, -0.66,0.481, -0.63,0.495, -0.60,0.507, -0.57,0.515, -0.54,0.521,
  -0.51,0.521, -0.48,0.519, -0.45,0.516, -0.42,0.51, -0.39,0.503, -0.36,0.495, -0.33,0.485, -0.30,0.474,
  -0.27,0.466, -0.24,0.458, -0.21,0.45, -0.18,0.449, -0.15,0.448, -0.12,0.45, -0.09,0.454, -0.06,0.462,
  -0.03,0.483, 0,0.509, 0.03,0.528, 0.06,0.543, 0.09,0.552, 0.12,0.56, 0.15,0.567, 0.18,0.569,
  0.21,0.572, 0.24,0.573, 0.27,0.575, 0.30,0.576, 0.33,0.577, 0.36,0.576, 0.39,0.574, 0.42,0.57,
  0.45,0.566, 0.48,0.556, 0.51,0.547, 0.54,0.538, 0.57,0.525, 0.60,0.511, 0.63,0.492, 0.66,0.471,
  0.69,0.445, 0.72,0.416, 0.75,0.385, 0.78,0.349, 0.81,0.309, 0.84,0.259, 0.87,0.209,
];
const casRow6 = [
  -0.975,0.28, -0.945,0.34, -0.915,0.38, -0.885,0.403, -0.855,0.415, -0.825,0.424, -0.795,0.432, -0.765,0.447,
  -0.735,0.471, -0.705,0.495, -0.675,0.515, -0.645,0.531, -0.615,0.544, -0.585,0.554, -0.555,0.561, -0.525,0.562,
  -0.495,0.56, -0.465,0.557, -0.435,0.552, -0.405,0.546, -0.375,0.538, -0.345,0.528, -0.315,0.516, -0.285,0.506,
  -0.255,0.497, -0.225,0.489, -0.195,0.485, -0.165,0.485, -0.135,0.487, -0.105,0.491, -0.075,0.498, -0.045,0.513,
  -0.015,0.537, 0.015,0.561, 0.045,0.58, 0.075,0.593, 0.105,0.601, 0.135,0.607, 0.165,0.61, 0.195,0.61,
  0.225,0.61, 0.255,0.61, 0.285,0.61, 0.315,0.61, 0.345,0.61, 0.375,0.608, 0.405,0.605, 0.435,0.602,
  0.465,0.596, 0.495,0.587, 0.525,0.58, 0.555,0.571, 0.585,0.558, 0.615,0.541, 0.645,0.522, 0.675,0.50,
  0.705,0.474, 0.735,0.445, 0.765,0.412, 0.795,0.374, 0.825,0.33, 0.855,0.275, 0.885,0.21,
];
const casFill1 = [
  -0.982,0.108, -0.952,0.093, -0.922,0.105, -0.892,0.144, -0.862,0.185, -0.832,0.221, -0.802,0.252, -0.772,0.278,
  -0.742,0.297, -0.712,0.311, -0.682,0.323, -0.652,0.336, -0.622,0.348, -0.592,0.359, -0.562,0.368, -0.532,0.376,
  -0.502,0.382, -0.472,0.382, -0.442,0.378, -0.412,0.372, -0.382,0.366, -0.352,0.36, -0.322,0.353, -0.292,0.347,
  -0.262,0.34, -0.232,0.334, -0.202,0.328, -0.172,0.323, -0.142,0.319, -0.112,0.317, -0.082,0.319, -0.052,0.328,
  -0.022,0.348, 0.008,0.369, 0.038,0.379, 0.068,0.388, 0.098,0.398, 0.128,0.408, 0.158,0.419, 0.188,0.43,
  0.218,0.439, 0.248,0.447, 0.278,0.453, 0.308,0.458, 0.338,0.46, 0.368,0.462, 0.398,0.459, 0.428,0.453,
  0.458,0.444, 0.488,0.432, 0.518,0.417, 0.548,0.398, 0.578,0.384, 0.608,0.369, 0.638,0.345, 0.668,0.319,
  0.698,0.288, 0.728,0.254, 0.758,0.219, 0.788,0.182, 0.818,0.139, 0.848,0.093, 0.878,0.09,
];
const casFill2 = [
  -0.968,0.143, -0.938,0.153, -0.908,0.183, -0.878,0.219, -0.848,0.251, -0.818,0.279, -0.788,0.303, -0.758,0.325,
  -0.728,0.343, -0.698,0.358, -0.668,0.372, -0.638,0.385, -0.608,0.397, -0.578,0.407, -0.548,0.414, -0.518,0.421,
  -0.488,0.422, -0.458,0.42, -0.428,0.414, -0.398,0.408, -0.368,0.401, -0.338,0.394, -0.308,0.386, -0.278,0.379,
  -0.248,0.372, -0.218,0.366, -0.188,0.361, -0.158,0.357, -0.128,0.355, -0.098,0.356, -0.068,0.362, -0.038,0.377,
  -0.008,0.401, 0.022,0.417, 0.052,0.428, 0.082,0.438, 0.112,0.447, 0.142,0.457, 0.172,0.466, 0.202,0.474,
  0.232,0.48, 0.262,0.486, 0.292,0.49, 0.322,0.493, 0.352,0.494, 0.382,0.494, 0.412,0.489, 0.442,0.483,
  0.472,0.473, 0.502,0.461, 0.532,0.445, 0.562,0.43, 0.592,0.417, 0.622,0.397, 0.652,0.374, 0.682,0.346,
  0.712,0.315, 0.742,0.281, 0.772,0.246, 0.802,0.208, 0.832,0.158, 0.862,0.124,
];
const casFill3 = [
  -0.982,0.178, -0.952,0.198, -0.922,0.224, -0.892,0.257, -0.862,0.286, -0.832,0.31, -0.802,0.331, -0.772,0.351,
  -0.742,0.372, -0.712,0.391, -0.682,0.407, -0.652,0.421, -0.622,0.434, -0.592,0.445, -0.562,0.453, -0.532,0.459,
  -0.502,0.462, -0.472,0.46, -0.442,0.456, -0.412,0.45, -0.382,0.444, -0.352,0.435, -0.322,0.427, -0.292,0.418,
  -0.262,0.411, -0.232,0.404, -0.202,0.398, -0.172,0.395, -0.142,0.393, -0.112,0.393, -0.082,0.397, -0.052,0.408,
  -0.022,0.429, 0.008,0.452, 0.038,0.467, 0.068,0.478, 0.098,0.487, 0.128,0.496, 0.158,0.504, 0.188,0.51,
  0.218,0.515, 0.248,0.519, 0.278,0.523, 0.308,0.526, 0.338,0.527, 0.368,0.527, 0.398,0.524, 0.428,0.52,
  0.458,0.513, 0.488,0.502, 0.518,0.49, 0.548,0.477, 0.578,0.463, 0.608,0.448, 0.638,0.426, 0.668,0.402,
  0.698,0.374, 0.728,0.343, 0.758,0.309, 0.788,0.272, 0.818,0.23, 0.848,0.18, 0.878,0.15,
];
const casFill4 = [
  -0.968,0.233, -0.938,0.268, -0.908,0.30, -0.878,0.326, -0.848,0.346, -0.818,0.363, -0.788,0.377, -0.758,0.398,
  -0.728,0.42, -0.698,0.44, -0.668,0.456, -0.638,0.47, -0.608,0.483, -0.578,0.492, -0.548,0.499, -0.518,0.501,
  -0.488,0.50, -0.458,0.498, -0.428,0.492, -0.398,0.486, -0.368,0.478, -0.338,0.469, -0.308,0.459, -0.278,0.45,
  -0.248,0.443, -0.218,0.435, -0.188,0.432, -0.158,0.43, -0.128,0.431, -0.098,0.434, -0.068,0.441, -0.038,0.458,
  -0.008,0.482, 0.022,0.503, 0.052,0.518, 0.082,0.528, 0.112,0.536, 0.142,0.544, 0.172,0.548, 0.202,0.552,
  0.232,0.554, 0.262,0.557, 0.292,0.559, 0.322,0.56, 0.352,0.56, 0.382,0.559, 0.412,0.555, 0.442,0.551,
  0.472,0.542, 0.502,0.532, 0.532,0.522, 0.562,0.509, 0.592,0.495, 0.622,0.477, 0.652,0.456, 0.682,0.431,
  0.712,0.402, 0.742,0.371, 0.772,0.336, 0.802,0.297, 0.832,0.249, 0.862,0.201,
];
const casFill5 = [
  -0.982,0.248, -0.952,0.303, -0.922,0.343, -0.892,0.37, -0.862,0.387, -0.832,0.399, -0.802,0.41, -0.772,0.423,
  -0.742,0.446, -0.712,0.47, -0.682,0.49, -0.652,0.506, -0.622,0.52, -0.592,0.531, -0.562,0.538, -0.532,0.542,
  -0.502,0.541, -0.472,0.538, -0.442,0.534, -0.412,0.528, -0.382,0.521, -0.352,0.512, -0.322,0.501, -0.292,0.49,
  -0.262,0.482, -0.232,0.474, -0.202,0.468, -0.172,0.467, -0.142,0.468, -0.112,0.471, -0.082,0.476, -0.052,0.488,
  -0.022,0.51, 0.008,0.535, 0.038,0.554, 0.068,0.568, 0.098,0.577, 0.128,0.584, 0.158,0.589, 0.188,0.59,
  0.218,0.591, 0.248,0.592, 0.278,0.593, 0.308,0.593, 0.338,0.594, 0.368,0.592, 0.398,0.59, 0.428,0.586,
  0.458,0.581, 0.488,0.572, 0.518,0.564, 0.548,0.555, 0.578,0.542, 0.608,0.526, 0.638,0.507, 0.668,0.486,
  0.698,0.46, 0.728,0.431, 0.758,0.399, 0.788,0.362, 0.818,0.32, 0.848,0.267, 0.878,0.21,
];
const casLoose = [
  -0.96,0.0, 0.845,0.0, 0.0,0.36, 0.0,0.40, 0.0,0.44, 0.0,0.48, 0.0,0.52, 0.025,0.38, 0.025,0.42, 0.025,0.46,
  0.025,0.50, 0.025,0.54, 0.87,0.08, 0.88,0.12, 0.885,0.16, 0.89,0.19, 0.85,0.05, 0.83,0.06,
];

const FONT = '"Liberation Serif", "Times New Roman", serif';
const FONT_SIZE = 19.5;
const LEFT = 77;
const PLOT_W = 468;
const PLOT_H = 232;
const plotTops = [37, 368, 703, 1036];

const toPoints = (rows: number[][]) => {
  const out: { x: number; y: number }[] = [];
  rows.forEach((r) => {
    for (let i = 0; i < r.length; i += 2) out.push({ x: r[i], y: r[i + 1] });
  });
  return out;
};

const panels = [
  toPoints([
    hgOuterLeft, hgMidALeft, hgMidBLeft, hgInnerLeft, hgFillALeft, hgFillBLeft, hgFillCLeft,
    hgOuterRight, hgMidARight, hgMidBRight, hgInnerRight, hgFillARight, hgFillBRight, hgFillCRight,
  ]),
  toPoints([kleoRow1, kleoRow2, kleoRow3, kleoRow4, kleoRow5, kleoFill1, kleoFill2, kleoFill3, kleoFill4, kleoLoose]),
  toPoints([bacRow1, bacRow2, bacRow3, bacRow4, bacRow5, bacFill1, bacFill2, bacLoose]),
  toPoints([casRow1, casRow2, casRow3, casRow4, casRow5, casRow6, casFill1, casFill2, casFill3, casFill4, casFill5, casLoose]),
];

const Ring = (props: any) => (
  <circle cx={props.cx} cy={props.cy} r={3.7} fill="none" stroke="#000" strokeWidth={1.35} />
);

// bottom labels + inward ticks on bottom and top edges
const XTick = ({ x, y, payload }: any) => (
  <g>
    <line x1={x} x2={x} y1={y} y2={y - 9} stroke="#000" />
    <line x1={x} x2={x} y1={y - PLOT_H} y2={y - PLOT_H + 9} stroke="#000" />
    <text x={x} y={y + 17} textAnchor="middle" dominantBaseline="central" fontFamily={FONT} fontSize={FONT_SIZE} fill="#000">
      {String(payload.value)}
    </text>
  </g>
);

// left labels + inward ticks on left and right edges
const YTick = ({ x, y, payload }: any) => (
  <g>
    <line x1={x} x2={x + 9} y1={y} y2={y} stroke="#000" />
    <line x1={x + PLOT_W} x2={x + PLOT_W - 9} y1={y} y2={y} stroke="#000" />
    <text x={x - 7} y={y} textAnchor="end" dominantBaseline="central" fontFamily={FONT} fontSize={FONT_SIZE} fill="#000">
      {String(payload.value)}
    </text>
  </g>
);

const textBox = { position: 'absolute' as const, height: 24, lineHeight: '24px', textAlign: 'center' as const, whiteSpace: 'nowrap' as const };

const Panel = ({ index }: { index: number }) => {
  const top = plotTops[index];
  const cx = LEFT + PLOT_W / 2;
  return (
    <>
      <div style={{ position: 'absolute', left: 0, top: top - 10, width: 550, height: PLOT_H + 50 }}>
        <ScatterChart width={550} height={PLOT_H + 50} margin={{ top: 10, right: 5, bottom: 0, left: 0 }}>
          <XAxis
            type="number"
            dataKey="x"
            domain={[-1, 1]}
            ticks={xTicks}
            interval={0}
            tickSize={0}
            tickMargin={0}
            tickLine={false}
            axisLine={{ stroke: '#000' }}
            height={40}
            allowDataOverflow
            tick={(p: any) => <XTick {...p} />}
          />
          <YAxis
            type="number"
            dataKey="y"
            domain={[0, 1]}
            ticks={yTicks}
            interval={0}
            tickSize={0}
            tickMargin={0}
            tickLine={false}
            axisLine={{ stroke: '#000' }}
            width={LEFT}
            allowDataOverflow
            tick={(p: any) => <YTick {...p} />}
          />
          <ReferenceArea x1={-1} x2={1} y1={0} y2={1} fill="none" stroke="#000" strokeWidth={1} ifOverflow="visible" />
          <Scatter data={panels[index]} isAnimationActive={false} shape={(p: any) => <Ring {...p} />} />
        </ScatterChart>
      </div>
      <div style={{ ...textBox, left: cx - 250, width: 500, top: top - 20 - 12 }}>{titles[index]}</div>
      <div style={{ ...textBox, left: cx - 150, width: 300, top: top + PLOT_H + 36 - 12 }}>{xLabel}</div>
      <div style={{ ...textBox, left: 19 - 160, width: 320, top: top + PLOT_H / 2 - 12, transform: 'rotate(-90deg)' }}>
        {yLabel}
      </div>
    </>
  );
};

export default function App() {
  return (
    <div
      style={{
        position: 'absolute',
        left: 0,
        top: 0,
        width: 550,
        height: 1316,
        background: '#fff',
        fontFamily: FONT,
        fontSize: FONT_SIZE,
        color: '#000',
      }}
    >
      {plotTops.map((_, i) => (
        <Panel key={i} index={i} />
      ))}
    </div>
  );
}
